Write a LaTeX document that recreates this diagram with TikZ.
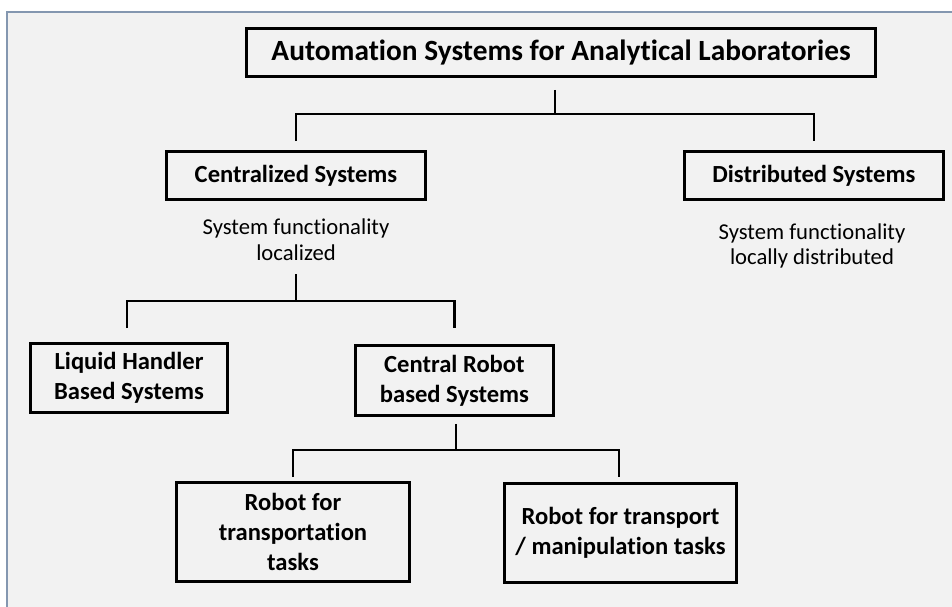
\documentclass[tikz,border=0pt]{standalone}
\usepackage{fontspec}
\setmainfont{Carlito}[Ligatures={NoCommon}]
\usetikzlibrary{positioning,calc}
\definecolor{lgray}{HTML}{F2F2F2}
\definecolor{lframe}{HTML}{8497B0}

\begin{document}
\begin{tikzpicture}[x=0.02cm, y=-0.02cm,
  box/.style={draw, line width=1.7pt, align=center, inner sep=0pt, font=\bfseries\fontsize{14}{17}\selectfont},
  desc/.style={align=center, inner sep=0pt, font=\fontsize{12.9}{14.7}\selectfont},
  conn/.style={line width=1.3pt}]
\useasboundingbox (0,0) rectangle (952,607);
\fill[white] (0,0) rectangle (952,607);
\draw[fill=lgray, draw=lframe, line width=1.4pt] (7,12) rectangle (970,630);
% top level
\node[box, minimum width=12.58cm, minimum height=0.96cm, font=\bfseries\fontsize{16.7}{20}\selectfont] (auto) at (561,52.5) {Automation Systems for Analytical Laboratories};
\node[box, minimum width=5.18cm, minimum height=0.96cm] (cent) at (296,175.5) {Centralized Systems};
\node[box, minimum width=5.18cm, minimum height=0.96cm, right=5.12cm of cent] (dist) {Distributed Systems};
\node[desc] (cdesc) at (296,240) {System functionality\\localized};
\node[desc] (ddesc) at (812,246) {System functionality\\locally distributed};
% centralized branch
\node[box, minimum width=3.94cm, minimum height=1.38cm] (liq) at (129,378) {Liquid Handler\\Based Systems};
\node[box, minimum width=3.96cm, minimum height=1.40cm, right=2.5cm of liq, yshift=-0.05cm] (rob) {Central Robot\\based Systems};
\node[box, minimum width=4.66cm, minimum height=1.98cm] (trans) at (293,532) {Robot for\\transportation\\tasks};
\node[box, minimum width=4.64cm, minimum height=1.98cm, right=1.84cm of trans, yshift=-0.02cm] (manip) {Robot for transport\\/ manipulation tasks};
% brackets
\coordinate (j1) at (555,114);
\coordinate (j2) at (296,301);
\coordinate (j3) at (456,450);
\draw[conn] ($(auto.south -| j1)+(0,12)$) -- (j1);
\draw[conn] ($(cent.north)+(0,-9)$) |- (j1) -| ($(dist.north)+(0,-9)$);
\draw[conn] ($(cdesc.south)+(0,13)$) -- (j2);
\draw[conn] ($(liq.north)+(-2,-14)$) |- (j2) -| ($(rob.north)+(0,-16)$);
\draw[conn] ($(rob.south -| j3)+(0,7)$) -- (j3);
\draw[conn] ($(trans.north)+(0,-4)$) |- (j3) -| ($(manip.north)+(-1.5,-5)$);
\end{tikzpicture}
\end{document}
